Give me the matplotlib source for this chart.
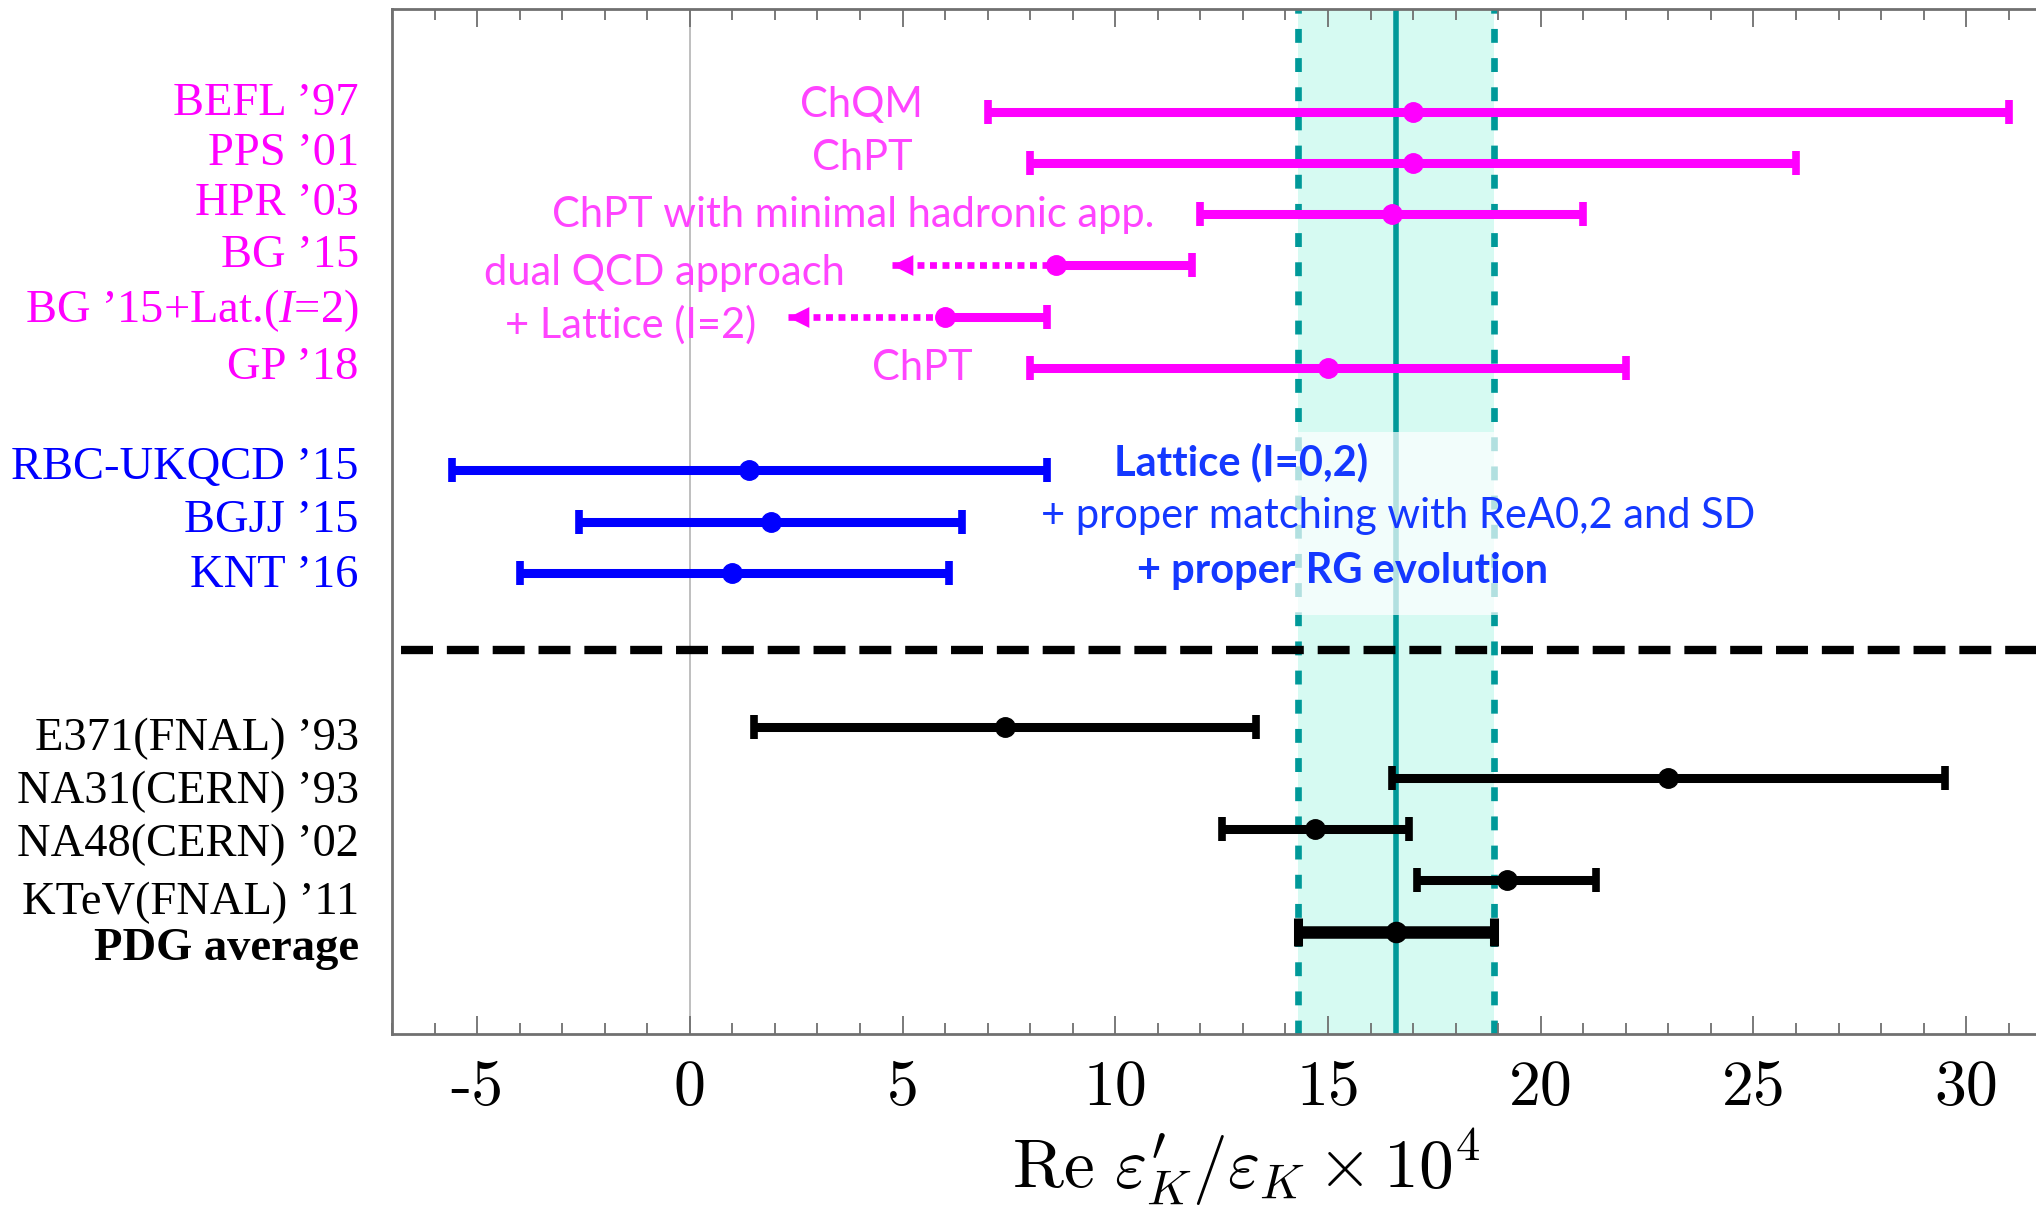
import numpy as np
import matplotlib
matplotlib.use("Agg")
import matplotlib.pyplot as plt
from matplotlib.ticker import MultipleLocator
from matplotlib.patches import Rectangle

plt.rcParams['font.family'] = ['Liberation Serif', 'DejaVu Serif']
plt.rcParams['mathtext.fontset'] = 'custom'
plt.rcParams['mathtext.rm'] = 'Liberation Serif'
plt.rcParams['mathtext.it'] = 'Liberation Serif:italic'
plt.rcParams['lines.scale_dashes'] = False

# ---- data (Re eps'/eps x 10^4) ----
# theory, two-sided
theo_labels = ["BEFL \u201997", "PPS \u201901", "HPR \u201903", "BG \u201915",
               "BG \u201915+Lat.($I$=2)", "GP \u201918"]
theo_label_y = [17.93, 16.96, 15.98, 14.97, 13.90, 12.79]
theo_y = [18, 17, 16, 13]
theo_c = [17.0, 17.0, 16.5, 15.0]
theo_lo = [7.0, 8.0, 12.0, 8.0]
theo_hi = [31.0, 26.0, 21.0, 22.0]
# theory, upper bound only (dotted arrow to the left)
bound_y = [15, 14]
bound_c = [8.6, 6.0]
bound_hi = [11.8, 8.4]
bound_tip = [4.75, 2.3]

theo_notes = ["ChQM", "ChPT", "ChPT with minimal hadronic app.",
              "dual QCD approach", "+ Lattice (I=2)", "ChPT"]
theo_note_x = [5.48, 5.23, 10.91, 3.64, 1.57, 6.64]
theo_note_y = [17.89, 16.86, 15.75, 14.61, 13.58, 12.76]

# lattice
lat_labels = ["RBC-UKQCD \u201915", "BGJJ \u201915", "KNT \u201916"]
lat_label_y = [10.83, 9.79, 8.72]
lat_y = [11, 10, 9]
lat_c = [1.4, 1.9, 1.0]
lat_lo = [-5.6, -2.6, -4.0]
lat_hi = [8.4, 6.4, 6.1]

lat_notes = ["Lattice (I=0,2)", "+ proper matching with ReA0,2 and SD",
             "+ proper RG evolution"]
lat_note_x = [12.96, 16.65, 15.33]
lat_note_y = [10.91, 9.87, 8.80]
lat_note_w = ["bold", "normal", "bold"]

# experiments
exp_labels = ["E371(FNAL) \u201993", "NA31(CERN) \u201993", "NA48(CERN) \u201902",
              "KTeV(FNAL) \u201911", "PDG average"]
exp_label_y = [5.55, 4.50, 3.47, 2.35, 1.44]
exp_y = [6, 5, 4, 3, 2]
exp_c = [7.4, 23.0, 14.7, 19.2, 16.6]
exp_lo = [1.5, 16.5, 12.5, 17.1, 14.3]
exp_hi = [13.3, 29.5, 16.9, 21.3, 18.9]

xticks = [-5, 0, 5, 10, 15, 20, 25, 30]
xtick_labels = ["-5", "0", "5", "10", "15", "20", "25", "30"]

MAG = '#ff00ff'
MAG_TXT = '#ff44ff'
BLUE = '#0000ff'
BLUE_TXT = '#1438ff'
TEAL = '#009999'
BAND = '#d6faf2'
GRAY = '#707070'

fig = plt.figure(figsize=(20.36, 12.10), dpi=100)
ax = fig.add_axes([392 / 2036, 1 - 1034 / 1210, 1644 / 2036, 1025 / 1210])
ax.set_xlim(-7, 31.64)
ax.set_ylim(0, 20)


def draw_bar(y, lo, hi, c, color, lw=6.5, cap_ms=17, cap_mew=5.5, ms=14):
    ax.hlines(y, lo, hi, colors=color, lw=lw, zorder=4)
    ax.plot([lo, hi], [y, y], ls='none', marker='|', ms=cap_ms, mew=cap_mew,
            color=color, zorder=4)
    ax.plot(c, y, 'o', ms=ms, color=color, zorder=5)


# PDG band
pdg_c, pdg_lo, pdg_hi = exp_c[-1], exp_lo[-1], exp_hi[-1]
ax.axvspan(pdg_lo, pdg_hi, color=BAND, lw=0, zorder=0)
ax.axvline(pdg_lo, color=TEAL, lw=4.8, dashes=(10, 11), zorder=1)
ax.axvline(pdg_hi, color=TEAL, lw=4.8, dashes=(10, 11), zorder=1)
ax.axvline(pdg_c, color=TEAL, lw=4, zorder=1)
ax.axvline(0, color='#b4b4b4', lw=1.2, zorder=0.5)

# light box behind lattice notes
ax.add_patch(Rectangle((8.0, 8.18), 17.5, 3.57, facecolor='white', alpha=0.7,
                       lw=0, zorder=2))

# separator
ax.axhline(7.5, color='black', lw=6, ls=(26.5, (23, 10)), zorder=3)

for y, c, lo, hi in zip(theo_y, theo_c, theo_lo, theo_hi):
    draw_bar(y, lo, hi, c, MAG)
for y, c, hi, tip in zip(bound_y, bound_c, bound_hi, bound_tip):
    ax.hlines(y, c, hi, colors=MAG, lw=6.5, zorder=4)
    ax.plot(hi, y, ls='none', marker='|', ms=17, mew=5.5, color=MAG, zorder=4)
    ax.plot(c, y, 'o', ms=14, color=MAG, zorder=5)
    ax.plot([tip, c], [y, y], color=MAG, lw=4.8, dashes=(5, 4), zorder=4)
    ax.plot(tip, y, ls='none', marker=[(1, 0.5), (1, -0.5), (0, 0)], ms=30,
            color=MAG, mew=0, zorder=4)

for y, c, lo, hi in zip(lat_y, lat_c, lat_lo, lat_hi):
    draw_bar(y, lo, hi, c, BLUE)

for i, (y, c, lo, hi) in enumerate(zip(exp_y, exp_c, exp_lo, exp_hi)):
    if i == len(exp_y) - 1:
        draw_bar(y, lo, hi, c, 'black', lw=9, cap_ms=20, cap_mew=6.5, ms=14.5)
    else:
        draw_bar(y, lo, hi, c, 'black')

# row labels
LX = -7.78
for t, y in zip(theo_labels, theo_label_y):
    ax.text(LX, y, t, color=MAG, fontsize=33.5, ha='right', va='baseline',
            clip_on=False)
for t, y in zip(lat_labels, lat_label_y):
    ax.text(LX, y, t, color=BLUE, fontsize=33.5, ha='right', va='baseline',
            clip_on=False)
for i, (t, y) in enumerate(zip(exp_labels, exp_label_y)):
    ax.text(LX, y, t, color='black', fontsize=33.5, ha='right', va='baseline',
            fontweight='bold' if i == len(exp_labels) - 1 else 'normal',
            clip_on=False)

# notes
for t, x, y in zip(theo_notes, theo_note_x, theo_note_y):
    ax.text(x, y, t, color=MAG_TXT, fontsize=30, family='Lato', ha='right',
            va='baseline', zorder=6)
for t, x, y, w in zip(lat_notes, lat_note_x, lat_note_y, lat_note_w):
    ax.text(x, y, t, color=BLUE_TXT, fontsize=30, family='Lato', ha='center',
            va='baseline', fontweight=w, zorder=6)

# axes styling
for s in ['left', 'top', 'bottom']:
    ax.spines[s].set_color(GRAY)
    ax.spines[s].set_linewidth(2)
ax.spines['right'].set_visible(False)
ax.set_yticks([])
ax.set_xticks(xticks)
ax.set_xticklabels(xtick_labels, fontfamily='cmr10', fontsize=46)
ax.xaxis.set_minor_locator(MultipleLocator(1))
ax.tick_params(axis='x', which='both', direction='in', top=True, bottom=True,
               color=GRAY, width=1.3)
ax.tick_params(axis='x', which='major', length=13, pad=19)
ax.tick_params(axis='x', which='minor', length=8)

xl = ax.set_xlabel(r'$\mathrm{Re}\ \varepsilon^{\prime}_K/\varepsilon_K \times 10^4$',
                   fontsize=50)
xl.set_math_fontfamily('cm')
xl.set_verticalalignment('baseline')
ax.xaxis.set_label_coords(0.5195, -0.1498)

fig.savefig('out.png', dpi=100)
